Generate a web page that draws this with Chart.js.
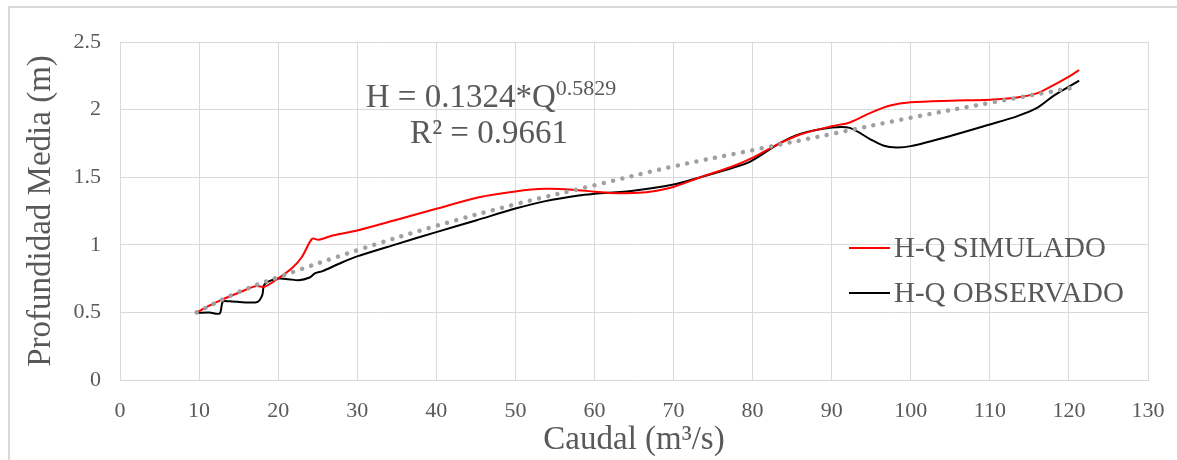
<!DOCTYPE html>
<html>
<head>
<meta charset="utf-8">
<script src="https://cdn.jsdelivr.net/npm/chart.js@4/dist/chart.umd.min.js"></script>
<style>
  html, body { margin: 0; padding: 0; background: #fff; overflow: hidden; }
  #wrap { position: relative; width: 1177px; height: 460px; }
  #frame { position: absolute; left: 8px; top: 6px; width: 1300px; height: 600px; border: 2px solid #d9d9d9; box-sizing: border-box; }
  #grafico { position: absolute; left: 0; top: 0; }
</style>
</head>
<body>
<div id="wrap">
  <div id="frame"></div>
  <canvas id="grafico" width="1177" height="460"></canvas>
</div>
<script>
// Curva H-Q: caudal (m3/s) vs profundidad media (m)
const caudalSim = [9.7, 11.3, 12.9, 15, 17.2, 18.3, 20.1, 21.8, 23, 24.3, 25.1, 27, 30, 35, 40, 45.4, 50, 53.8, 57.2, 60, 62, 64.9, 67, 70, 73.4, 77.6, 80.1, 83.4, 86, 90, 92.3, 94.9, 97.4, 100, 105, 110, 113.4, 115.9, 118, 120, 121.3];
const profSim = [0.5, 0.55, 0.594, 0.645, 0.695, 0.69, 0.755, 0.83, 0.91, 1.045, 1.037, 1.07, 1.106, 1.185, 1.266, 1.352, 1.395, 1.414, 1.408, 1.393, 1.384, 1.383, 1.392, 1.428, 1.5, 1.583, 1.647, 1.75, 1.816, 1.877, 1.905, 1.976, 2.03, 2.054, 2.066, 2.073, 2.09, 2.12, 2.18, 2.244, 2.293];

const caudalObs = [9.7, 11.3, 12.6, 13.0, 13.8, 15.9, 17.4, 18.0, 18.2, 18.8, 20.1, 21.3, 22.6, 23.9, 24.7, 25.6, 27.7, 30, 35, 40, 45, 50, 53.8, 58, 60, 64.9, 70, 73.4, 77.6, 79.7, 83.4, 86, 90, 92.3, 94.9, 96.5, 98.2, 100, 105, 110, 113.4, 115.9, 118, 120, 121.3];
const profObs = [0.497, 0.5, 0.492, 0.58, 0.582, 0.574, 0.578, 0.63, 0.70, 0.73, 0.75, 0.746, 0.738, 0.756, 0.79, 0.805, 0.86, 0.914, 1.005, 1.094, 1.18, 1.268, 1.323, 1.365, 1.377, 1.40, 1.446, 1.5, 1.572, 1.615, 1.75, 1.82, 1.867, 1.865, 1.78, 1.735, 1.72, 1.73, 1.805, 1.89, 1.95, 2.01, 2.1, 2.17, 2.215];

// Línea de tendencia potencial
const caudalTend = [9.7, 15, 20, 30, 40, 50, 60, 70, 80, 90, 100, 110, 120.3];
const profTend = [0.5, 0.65, 0.76, 0.96, 1.14, 1.3, 1.44, 1.58, 1.7, 1.82, 1.94, 2.05, 2.16];

const xTicks = [0, 10, 20, 30, 40, 50, 60, 70, 80, 90, 100, 110, 120, 130];
const yTicks = [0, 0.5, 1, 1.5, 2, 2.5];

const ecuacion = 'H = 0.1324*Q';
const exponente = '0.5829';
const r2 = 'R² = 0.9661';

const toPts = (xs, ys) => xs.map((x, i) => ({ x: x, y: ys[i] }));

const gris = '#595959';
const fuente = 'Liberation Serif, Times New Roman, serif';

// Ecuación y leyenda dibujadas dentro del área del gráfico
const textoPlugin = {
  id: 'textoPlugin',
  afterDraw(chart) {
    const ctx = chart.ctx;
    const a = chart.chartArea;
    ctx.save();
    ctx.fillStyle = gris;
    ctx.textBaseline = 'alphabetic';

    // ecuación con exponente
    ctx.font = '33px ' + fuente;
    const w1 = ctx.measureText(ecuacion).width;
    ctx.font = '22px ' + fuente;
    const w2 = ctx.measureText(exponente).width;
    const cx = a.left + 371;
    let x0 = cx - (w1 + w2) / 2;
    ctx.font = '33px ' + fuente;
    ctx.textAlign = 'left';
    ctx.fillText(ecuacion, x0, a.top + 65);
    ctx.font = '22px ' + fuente;
    ctx.fillText(exponente, x0 + w1, a.top + 53);
    ctx.font = '33px ' + fuente;
    ctx.textAlign = 'center';
    ctx.fillText(r2, cx - 2, a.top + 101);

    // leyenda
    ctx.font = '29px ' + fuente;
    ctx.textAlign = 'left';
    ctx.textBaseline = 'middle';
    const series = chart.data.datasets.filter(d => d.leyenda);
    series.forEach((d, i) => {
      const y = a.top + 206 + i * 45;
      ctx.strokeStyle = d.borderColor;
      ctx.lineWidth = 2;
      ctx.beginPath();
      ctx.moveTo(a.left + 729, y);
      ctx.lineTo(a.left + 770, y);
      ctx.stroke();
      ctx.fillStyle = gris;
      ctx.fillText(d.label, a.left + 774, y + 1);
    });
    ctx.restore();
  }
};

Chart.defaults.font.family = fuente;
Chart.defaults.color = gris;

new Chart(document.getElementById('grafico'), {
  type: 'scatter',
  data: {
    datasets: [
      {
        label: 'H-Q SIMULADO',
        leyenda: true,
        data: toPts(caudalSim, profSim),
        showLine: true,
        borderColor: '#FF0000',
        borderWidth: 2,
        pointRadius: 0,
        tension: 0.3,
        order: 2
      },
      {
        label: 'H-Q OBSERVADO',
        leyenda: true,
        data: toPts(caudalObs, profObs),
        showLine: true,
        borderColor: '#000000',
        borderWidth: 2,
        pointRadius: 0,
        tension: 0.3,
        order: 3
      },
      {
        label: 'Tendencia',
        data: toPts(caudalTend, profTend),
        showLine: true,
        borderColor: '#A0A0A0',
        borderWidth: 4.5,
        borderDash: [0.01, 9.5],
        borderCapStyle: 'round',
        pointRadius: 0,
        tension: 0.4,
        order: 1
      }
    ]
  },
  options: {
    responsive: false,
    animation: false,
    devicePixelRatio: 1,
    layout: { padding: { top: 42, right: 29, left: 0, bottom: 0 } },
    plugins: {
      legend: { display: false },
      tooltip: { enabled: false }
    },
    scales: {
      x: {
        type: 'linear',
        min: 0,
        max: 130,
        afterBuildTicks: axis => { axis.ticks = xTicks.map(v => ({ value: v })); },
        afterFit: axis => { axis.height = 80; axis.paddingLeft = 0; axis.paddingRight = 0; },
        grid: { color: '#d9d9d9', drawTicks: false },
        border: { color: '#d9d9d9' },
        ticks: { padding: 18, font: { size: 22 }, color: gris, maxRotation: 0, callback: v => String(v) },
        title: { display: true, text: 'Caudal (m³/s)', font: { size: 33 }, color: gris, padding: { top: 0, bottom: 0 } }
      },
      y: {
        min: 0,
        max: 2.5,
        afterBuildTicks: axis => { axis.ticks = yTicks.map(v => ({ value: v })); },
        afterFit: axis => { axis.width = 120; axis.paddingTop = 0; axis.paddingBottom = 0; },
        grid: { color: '#d9d9d9', drawTicks: false },
        border: { color: '#d9d9d9' },
        ticks: { padding: 19, font: { size: 22 }, color: gris, callback: v => String(v) },
        title: { display: true, text: 'Profundidad Media (m)', font: { size: 33 }, color: gris, padding: { top: 22, bottom: 0 } }
      }
    }
  },
  plugins: [textoPlugin]
});
</script>
</body>
</html>
